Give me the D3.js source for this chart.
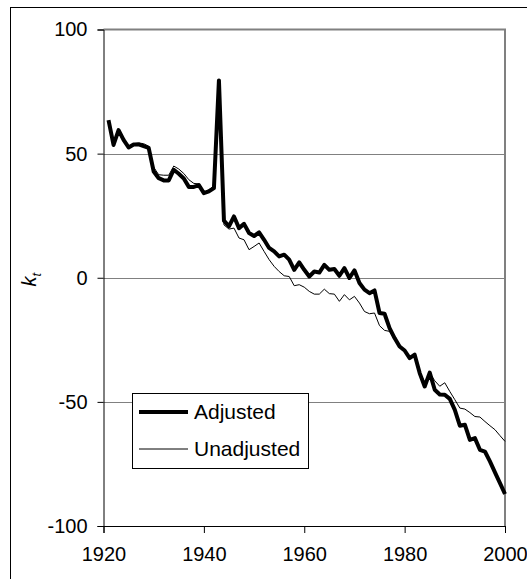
<!DOCTYPE html>
<html>
<head>
<meta charset="utf-8">
<script src="https://cdn.jsdelivr.net/npm/d3@7"></script>
<style>
  body { margin: 0; background: #fff; }
  text { font-family: "Liberation Sans", Arial, sans-serif; fill: #000; }
</style>
</head>
<body>
<div id="root"></div>
<script>
const years = d3.range(1921, 2001)

const adjusted = [
  63.5, 53.5, 59.5, 55.5, 52.5, 53.7, 53.7, 53, 52.3, 42.8,
  40.1, 39.2, 39.2, 43.5, 41.9, 40, 36.6, 36.6, 37.3, 34.1,
  34.8, 36.1, 79.5, 23, 20.7, 24.7, 20, 21.7, 18, 16.8,
  18.3, 15.3, 12, 10.6, 8.6, 9.3, 7.3, 3.2, 6.2, 3.2,
  0.5, 2.5, 2.1, 5.2, 3.2, 3.5, 0.8, 3.9, -0.1, 3,
  -2.1, -4.8, -6.2, -5.1, -14.2, -14.5, -20.3, -24.3, -27.7, -29.3,
  -32.4, -31, -38.4, -43.8, -38.2, -45.1, -47, -47.1, -48.8, -53.2,
  -59.6, -59.2, -65.3, -64.6, -69.3, -70, -74, -78.4, -82.7, -87.1
]

const unadjusted = [
  63, 53.5, 59, 55.5, 52.5, 54, 54.3, 54, 53, 44.5,
  41.5, 41.3, 41.3, 45, 43.8, 42, 39.5, 38, 37.8, 34.5,
  35.5, 37, 78, 21.3, 19.6, 20, 16, 15.3, 11.3, 12.6,
  14, 10.6, 7.3, 4.6, 2.5, 0.8, 0.5, -3.2, -2.8, -3.8,
  -5.5, -6.6, -6.6, -4.6, -6.4, -6.6, -9.5, -6.8, -8.9, -7.5,
  -10.2, -13.6, -14.5, -14.2, -19.3, -21.2, -21.6, -25, -27.7, -29.3,
  -31.7, -31, -37.7, -42.4, -38.3, -41.5, -43.7, -42.3, -45.8, -49.1,
  -52.5, -52.9, -54.3, -55.9, -56.1, -57.9, -59.6, -61.2, -63.6, -65.9
]

const xTicks = [1920, 1940, 1960, 1980, 2000]
const yTicks = [-100, -50, 0, 50, 100]
const gridValues = [-50, 0, 50]
const seriesNames = ['Adjusted', 'Unadjusted']

const WIDTH = 527
const HEIGHT = 579
const PLOT_LEFT = 103.5
const PLOT_RIGHT = 505
const PLOT_TOP = 29.5
const PLOT_BOTTOM = 526

const svg = d3.select('#root')
  .append('svg')
  .attr('width', WIDTH)
  .attr('height', HEIGHT)

// outer chart frame (runs off the right/bottom edge)
svg.append('rect')
  .attr('x', 10.5)
  .attr('y', 7.5)
  .attr('width', 600)
  .attr('height', 600)
  .attr('fill', '#fff')
  .attr('stroke', '#000')
  .attr('stroke-width', 1)

const xScale = d3.scaleLinear()
  .domain([1920, 2000])
  .range([PLOT_LEFT, PLOT_RIGHT])

const yScale = d3.scaleLinear()
  .domain([-100, 100])
  .range([PLOT_BOTTOM, PLOT_TOP])

// plot area border: grey top + right
svg.append('path')
  .attr('d', `M${PLOT_LEFT},${PLOT_TOP}H${PLOT_RIGHT}V${PLOT_BOTTOM}`)
  .attr('fill', 'none')
  .attr('stroke', '#808080')
  .attr('stroke-width', 2)

svg.append('g')
  .selectAll('line')
  .data(gridValues)
  .enter()
  .append('line')
  .attr('x1', PLOT_LEFT)
  .attr('x2', PLOT_RIGHT)
  .attr('y1', d => Math.round(yScale(d)) + 0.5)
  .attr('y2', d => Math.round(yScale(d)) + 0.5)
  .attr('stroke', '#808080')
  .attr('stroke-width', 1)

// plain hyphen for negatives, like the original
const plain = d => String(d)

const xAxis = d3.axisBottom(xScale).tickValues(xTicks).tickFormat(plain).tickSize(7).tickPadding(14)
const yAxis = d3.axisLeft(yScale).tickValues(yTicks).tickFormat(plain).tickSize(6).tickPadding(10)

const gx = svg.append('g')
  .attr('transform', `translate(0,${PLOT_BOTTOM})`)
  .call(xAxis)

const gy = svg.append('g')
  .attr('transform', `translate(${PLOT_LEFT},0)`)
  .call(yAxis)

for (const g of [gx, gy]) {
  g.select('.domain').attr('stroke', '#000')
  g.selectAll('.tick line').attr('stroke', '#000')
  g.selectAll('.tick text')
    .style('font-family', '"Liberation Sans", Arial, sans-serif')
    .style('font-size', '20px')
    .attr('fill', '#000')
}

// y axis title: k with subscript t
const yTitle = svg.append('text')
  .attr('transform', `translate(36,${yScale(0) + 2}) rotate(-90)`)
  .attr('text-anchor', 'middle')
  .style('font-size', '20px')
yTitle.append('tspan').style('font-style', 'italic').text('k')
yTitle.append('tspan')
  .style('font-style', 'italic')
  .style('font-size', '13px')
  .attr('dy', 5)
  .text('t')

const line = d3.line()
  .x((_, i) => xScale(years[i]))
  .y(d => yScale(d))

svg.append('path')
  .datum(unadjusted)
  .attr('d', line)
  .attr('fill', 'none')
  .attr('stroke', '#000')
  .attr('stroke-width', 1)

svg.append('path')
  .datum(adjusted)
  .attr('d', line)
  .attr('fill', 'none')
  .attr('stroke', '#000')
  .attr('stroke-width', 4)
  .attr('stroke-linejoin', 'round')

// legend
const legend = svg.append('g').attr('transform', 'translate(132,393)')
legend.append('rect')
  .attr('x', 0.5)
  .attr('y', 0.5)
  .attr('width', 176)
  .attr('height', 75)
  .attr('fill', '#fff')
  .attr('stroke', '#000')

const legendRows = legend.selectAll('g.row')
  .data(seriesNames)
  .enter()
  .append('g')
  .attr('class', 'row')
  .attr('transform', (_, i) => `translate(0,${19 + i * 37})`)

legendRows.append('line')
  .attr('x1', 7)
  .attr('x2', 56)
  .attr('stroke', '#000')
  .attr('stroke-width', (_, i) => i === 0 ? 4 : 1)

legendRows.append('text')
  .attr('x', 62)
  .attr('dy', '0.35em')
  .style('font-size', '21px')
  .text(d => d)
</script>
</body>
</html>
